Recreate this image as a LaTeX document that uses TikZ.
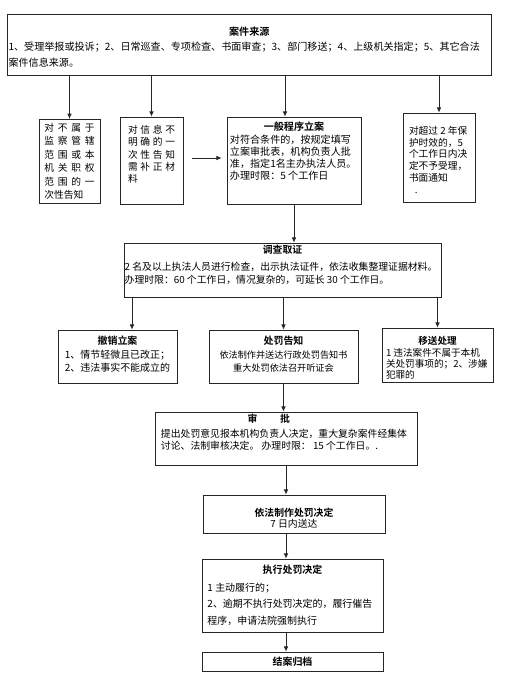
\documentclass[tikz,border=0pt]{standalone}
\usepackage{fontspec}
\setmainfont{Noto Sans CJK SC}[BoldFont={Noto Sans CJK SC Bold}]
\usepackage{tikz}
\usetikzlibrary{arrows.meta,positioning,calc}
\newcommand{\fs}[2]{\fontsize{#1pt}{#2pt}\selectfont}
\newcommand{\boxbody}[4]{\parbox[c][#2][t]{#1}{\vspace*{#3}#4}}
\newcommand{\spread}[1]{\makebox[\linewidth][s]{#1}}

\begin{document}
\begin{tikzpicture}[x=0.03cm, y=-0.03cm,
  box/.style={draw=black!85, line width=0.6pt, inner sep=0pt},
  flow/.style={draw=black!85, line width=0.7pt, -{Latex[length=4.5pt,width=4pt]}}]
  \useasboundingbox (0,0) rectangle (515,699);

  % Sources
  \node[box, minimum width=14.5cm] (src) at (249.25,44.5) {\boxbody{14.44cm}{1.83cm}{10.7pt}{\fs{8.6}{13.4}%
    {\centering\bfseries 案件来源\par}
    1、受理举报或投诉；2、日常巡查、专项检查、书面审查；3、部门移送；4、上级机关指定；5、其它合法\\
    案件信息来源。}};

  % First row
  \node[box, minimum width=1.83cm] (notjur) at (69.5,161.5) {\boxbody{1.5cm}{2.53cm}{3pt}{\fs{8.3}{11.6}%
    \spread{对 不 属 于}\\\spread{监 察 管 辖}\\\spread{范 围 或 本}\\\spread{机 关 职 权}\\\spread{范 围 的 一}\\次性告知}};
  \node[box, minimum width=1.89cm] (unclear) at (151.5,160.5) {\boxbody{1.41cm}{2.61cm}{7pt}{\fs{8.3}{10.5}%
    \spread{对 信 息 不}\\\spread{明 确 的 一}\\\spread{次 性 告 知}\\\spread{需 补 正 材}\\料}};
  \node[box, minimum width=4.02cm] (filing) at (294,160.5) {\boxbody{3.84cm}{2.61cm}{4pt}{\fs{8.6}{10.3}%
    {\centering\bfseries 一般程序立案\par}\vspace{1pt}
    对符合条件的，按规定填写\\立案审批表，机构负责人批\\准，指定1名主办执法人员。\\办理时限：5 个工作日}};
  \node[box, minimum width=2.16cm] (expired) at (439,157.5) {\boxbody{1.8cm}{2.67cm}{11pt}{\fs{8.3}{10.2}%
    对超过 2 年保\\护时效的，5\\个工作日内决\\定不予受理，\\书面通知\\\hspace*{0.6em}.}};

  % Investigation
  \node[box, minimum width=9.51cm] (inv) at (282.5,270) {\boxbody{9.47cm}{1.62cm}{2pt}{\fs{8.4}{11}%
    {\centering\bfseries 调查取证\par}\vspace{3.5pt}
    2 名及以上执法人员进行检查，出示执法证件，依法收集整理证据材料。\\
    办理时限：60 个工作日，情况复杂的，可延长 30 个工作日。}};

  % Second row
  \node[box, minimum width=3.57cm] (cancel) at (117.5,356.5) {\boxbody{3.4cm}{1.59cm}{5.3pt}{\fs{8.5}{11.4}%
    \centering{\bfseries 撤销立案}\\1、情节轻微且已改正；\\2、违法事实不能成立的}};
  \node[box, minimum width=4.47cm] (notice) at (283.5,356.5) {\boxbody{4.3cm}{1.59cm}{5.4pt}{\fs{7.8}{11.4}%
    \centering{\fs{8.5}{11.4}\bfseries 处罚告知}\\依法制作并送达行政处罚告知书\\重大处罚依法召开听证会}};
  \node[box, minimum width=3.33cm] (transfer) at (437.5,355) {\boxbody{3.09cm}{1.62cm}{7.4pt}{\fs{8.2}{9.6}%
    {\centering\bfseries 移送处理\par}
    1 违法案件不属于本机\\关处罚事项的；2、涉嫌\\犯罪的}};

  % Decision
  \node[box, minimum width=7.86cm] (approve) at (286,438.5) {\boxbody{7.5cm}{1.59cm}{1.9pt}{\fs{8.4}{10.2}%
    {\bfseries\hspace*{8.8em}审\hspace{2.3em}批\par}\vspace{2.5pt}
    提出处罚意见报本机构负责人决定，重大复杂案件经集体\\讨论、法制审核决定。 办理时限： 15 个工作日。.}};
  \node[box, minimum width=5.46cm] (decide) at (294,514) {\boxbody{5.2cm}{1.14cm}{11.5pt}{\fs{8.4}{8.8}%
    \centering{\bfseries 依法制作处罚决定}\\7 日内送达}};
  \node[box, minimum width=5.43cm] (execute) at (292.5,595.5) {\boxbody{5.1cm}{2.19cm}{4.7pt}{\fs{8.5}{14.5}%
    {\centering\bfseries 执行处罚决定\par}\vspace{0.8pt}
    1 主动履行的；\\2、逾期不执行处罚决定的，履行催告\\程序，申请法院强制执行}};
  \node[box, minimum width=5.43cm, minimum height=0.57cm, font=\fs{8.5}{10}\bfseries] (close) at (292.5,661.5) {结案归档};

  % Flow
  \draw[flow] (src.south -| notjur.north) -- (notjur.north);
  \draw[flow] (src.south -| unclear.north) -- (unclear.north);
  \coordinate (filingin) at ($(filing.north)+(-9,0)$);
  \draw[flow] (src.south -| filingin) -- (filingin);
  \draw[flow] (src.south -| expired.north) -- (expired.north);
  \draw[flow] ($(unclear.east)+(9,-2.5)$) -- ($(filing.west |- unclear.east)+(-5,-2.5)$);
  \draw[flow] (filing.south) -- (filing.south |- inv.north);
  \coordinate (cancelin) at ($(cancel.north)+(14.5,0)$);
  \draw[flow] (inv.south -| cancelin) -- (cancelin);
  \draw[flow] (inv.south -| notice.north) -- (notice.north);
  \draw[flow] (inv.south -| transfer.north) -- (transfer.north);
  \draw[flow] (notice.south) -- (notice.south |- approve.north);
  \coordinate (spine) at (approve.south);
  \draw[flow] (spine) -- (spine |- decide.north);
  \draw[flow] (decide.south -| spine) -- (spine |- execute.north);
  \draw[flow] (execute.south -| spine) -- (spine |- close.north);
\end{tikzpicture}
\end{document}
